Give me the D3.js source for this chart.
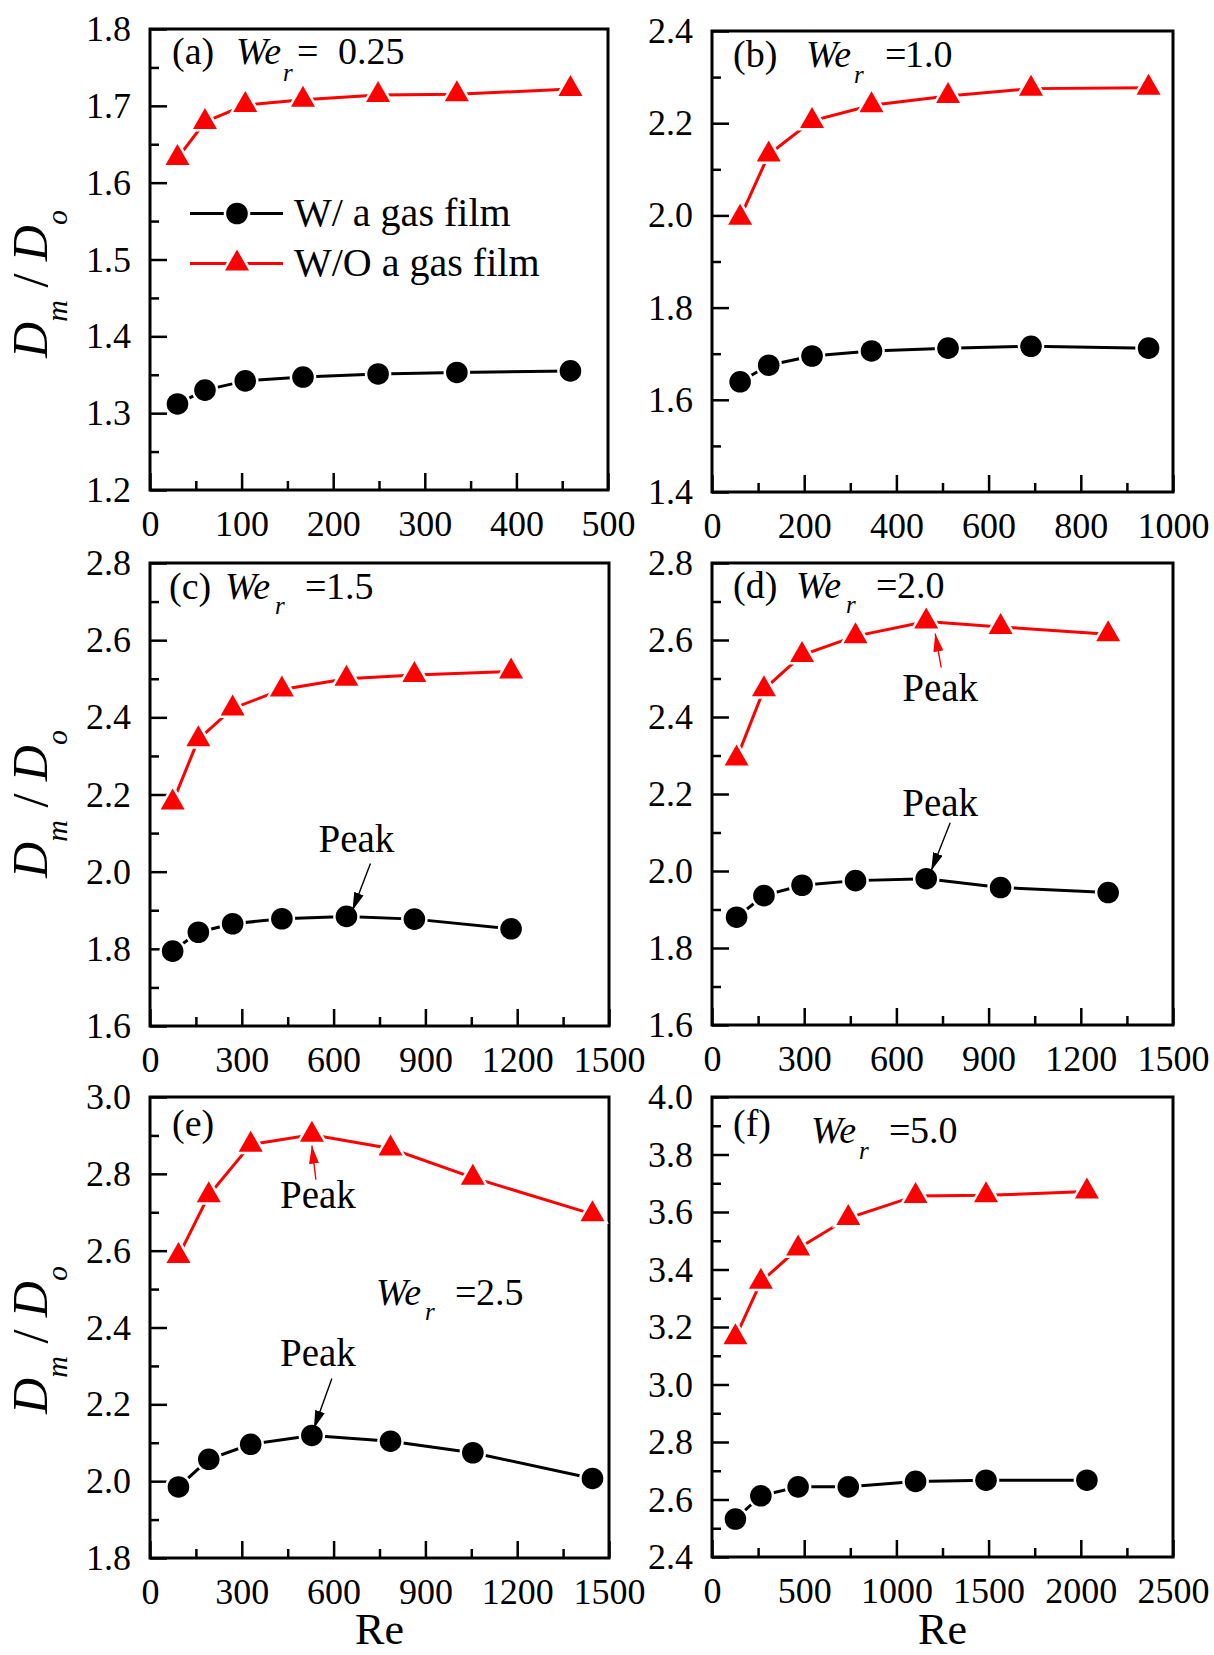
<!DOCTYPE html>
<html>
<head>
<meta charset="utf-8">
<script src="https://cdn.jsdelivr.net/npm/d3@7"></script>
<style>
body { margin: 0; background: #fff; }
svg text { font-family: "Liberation Serif", "Times New Roman", serif; fill: #000; white-space: pre; }
</style>
</head>
<body>
<svg id="chart" width="1214" height="1655"></svg>
<script>
var width = 1214,
    height = 1655;

// (a) We_r = 0.25
var reA = [30, 60, 104, 167, 249, 335, 459];
var gasA = [1.312, 1.330, 1.342, 1.347, 1.351, 1.353, 1.355];
var noGasA = [1.632, 1.679, 1.701, 1.708, 1.714, 1.715, 1.722];
var xTicksA = [0, 100, 200, 300, 400, 500];
var yTicksA = [1.2, 1.3, 1.4, 1.5, 1.6, 1.7, 1.8];

// (b) We_r = 1.0
var reB = [61, 123, 217, 346, 512, 692, 947];
var gasB = [1.639, 1.675, 1.695, 1.706, 1.712, 1.716, 1.712];
var noGasB = [1.995, 2.132, 2.205, 2.239, 2.259, 2.275, 2.277];
var xTicksB = [0, 200, 400, 600, 800, 1000];
var yTicksB = [1.4, 1.6, 1.8, 2.0, 2.2, 2.4];

// (c) We_r = 1.5
var reC = [74, 158, 270, 431, 642, 864, 1180];
var gasC = [1.794, 1.843, 1.865, 1.878, 1.884, 1.877, 1.852];
var noGasC = [2.179, 2.343, 2.423, 2.472, 2.500, 2.510, 2.519];
var xTicksC = [0, 300, 600, 900, 1200, 1500];
var yTicksC = [1.6, 1.8, 2.0, 2.2, 2.4, 2.6, 2.8];

// (d) We_r = 2.0
var reD = [80, 169, 293, 467, 697, 939, 1289];
var gasD = [1.880, 1.936, 1.963, 1.975, 1.980, 1.957, 1.944];
var noGasD = [2.292, 2.472, 2.561, 2.610, 2.648, 2.634, 2.615];
var xTicksD = [0, 300, 600, 900, 1200, 1500];
var yTicksD = [1.6, 1.8, 2.0, 2.2, 2.4, 2.6, 2.8];

// (e) We_r = 2.5
var reE = [93, 192, 329, 529, 786, 1055, 1446];
var gasE = [1.985, 2.057, 2.096, 2.119, 2.104, 2.074, 2.007];
var noGasE = [2.586, 2.744, 2.876, 2.902, 2.866, 2.790, 2.695];
var xTicksE = [0, 300, 600, 900, 1200, 1500];
var yTicksE = [1.8, 2.0, 2.2, 2.4, 2.6, 2.8, 3.0];

// (f) We_r = 5.0
var reF = [127, 265, 467, 739, 1104, 1486, 2033];
var gasF = [2.532, 2.613, 2.644, 2.644, 2.663, 2.667, 2.667];
var noGasF = [3.164, 3.357, 3.473, 3.579, 3.656, 3.658, 3.671];
var xTicksF = [0, 500, 1000, 1500, 2000, 2500];
var yTicksF = [2.4, 2.6, 2.8, 3.0, 3.2, 3.4, 3.6, 3.8, 4.0];

var seriesNames = ["W/ a gas film", "W/O a gas film"];
var panelLetters = ["(a)", "(b)", "(c)", "(d)", "(e)", "(f)"];
var weValues = ["0.25", "1.0", "1.5", "2.0", "2.5", "5.0"];

var RED = "#ff0000";

var svg = d3.select("#chart");

// arrow heads for the "Peak" notes
var defs = svg.append("defs");
[["arrowBlack", "#000"], ["arrowRed", RED]].forEach(function (m) {
    defs.append("marker")
        .attr("id", m[0])
        .attr("viewBox", "0 0 18 10")
        .attr("refX", 18).attr("refY", 5)
        .attr("markerWidth", 18).attr("markerHeight", 10)
        .attr("markerUnits", "userSpaceOnUse")
        .attr("orient", "auto")
      .append("path")
        .attr("d", "M0,0 L18,5 L0,10 Z")
        .attr("fill", m[1]);
});

// panel boxes and label placement (pixels, relative to each box)
var panels = [
    {left: 150, top: 29, w: 458, h: 461, re: reA, gas: gasA, noGas: noGasA, xT: xTicksA, yT: yTicksA,
     lab: {x: 22, y: 35}, we: {x: 86, y: 35, rx: 133, ry: 52, eq: 147, val: 188}},
    {left: 712, top: 31, w: 461, h: 461, re: reB, gas: gasB, noGas: noGasB, xT: xTicksB, yT: yTicksB,
     lab: {x: 21, y: 36}, we: {x: 94, y: 36, rx: 142, ry: 52, eq: 173, val: 193}},
    {left: 150, top: 563, w: 459, h: 463, re: reC, gas: gasC, noGas: noGasC, xT: xTicksC, yT: yTicksC,
     lab: {x: 19, y: 36}, we: {x: 75, y: 36, rx: 125, ry: 51, eq: 155, val: 176}},
    {left: 712, top: 563, w: 461, h: 462, re: reD, gas: gasD, noGas: noGasD, xT: xTicksD, yT: yTicksD,
     lab: {x: 21, y: 35}, we: {x: 84, y: 35, rx: 134, ry: 50, eq: 164, val: 185}},
    {left: 150, top: 1097, w: 459, h: 461, re: reE, gas: gasE, noGas: noGasE, xT: xTicksE, yT: yTicksE,
     lab: {x: 22, y: 39}, we: {x: 226, y: 208, rx: 275, ry: 223, eq: 305, val: 326}},
    {left: 712, top: 1097, w: 461, h: 460, re: reF, gas: gasF, noGas: noGasF, xT: xTicksF, yT: yTicksF,
     lab: {x: 21, y: 39}, we: {x: 99, y: 46, rx: 147, ry: 62, eq: 177, val: 198}}
];

// "Peak" notes: panel index, series, point index, offsets from the point in px
var peakNotes = [
    {panel: 2, series: "gas", i: 4, tip: [6, -6], tail: [24, -53], text: [10, -64]},
    {panel: 3, series: "noGas", i: 4, tip: [9, 12], tail: [15, 46], text: [14, 79]},
    {panel: 3, series: "gas", i: 4, tip: [5, -8], tail: [24, -56], text: [14, -63]},
    {panel: 4, series: "noGas", i: 3, tip: [0, 11], tail: [4, 45], text: [6, 73]},
    {panel: 4, series: "gas", i: 3, tip: [2, -7], tail: [20, -57], text: [6, -69]}
];

function mids(t) {
    var out = [];
    for (var k = 0; k < t.length - 1; k++) out.push((t[k] + t[k + 1]) / 2);
    return out;
}

function triangle(d) {
    return "M0,-14 L12,7 L-12,7 Z";
}

function styleAxis(sel) {
    sel.select(".domain").remove();
    sel.selectAll(".tick line").attr("stroke", "#000").attr("stroke-width", 2.5);
    sel.selectAll("text").attr("font-size", 36).attr("fill", "#000")
       .attr("font-family", "'Liberation Serif', 'Times New Roman', serif");
}

panels.forEach(function (p, pi) {
    var x = d3.scaleLinear().domain([p.xT[0], p.xT[p.xT.length - 1]]).range([0, p.w]);
    var y = d3.scaleLinear().domain([p.yT[0], p.yT[p.yT.length - 1]]).range([p.h, 0]);
    p.x = x; p.y = y;

    var g = svg.append("g").attr("transform", "translate(" + p.left + "," + p.top + ")");
    p.g = g;

    // minor ticks
    g.append("g").attr("transform", "translate(0," + p.h + ")")
        .call(d3.axisBottom(x).tickValues(mids(p.xT)).tickSizeInner(-9).tickSizeOuter(0).tickFormat(""))
        .call(styleAxis);
    g.append("g")
        .call(d3.axisLeft(y).tickValues(mids(p.yT)).tickSizeInner(-9).tickSizeOuter(0).tickFormat(""))
        .call(styleAxis);

    // major ticks + labels
    g.append("g").attr("transform", "translate(0," + p.h + ")")
        .call(d3.axisBottom(x).tickValues(p.xT).tickSizeInner(-17).tickSizeOuter(0)
              .tickPadding(20).tickFormat(d3.format("d")))
        .call(styleAxis);
    g.append("g")
        .call(d3.axisLeft(y).tickValues(p.yT).tickSizeInner(-17).tickSizeOuter(0)
              .tickPadding(19).tickFormat(d3.format(".1f")))
        .call(styleAxis);

    // frame
    g.append("rect")
        .attr("width", p.w).attr("height", p.h)
        .attr("fill", "none").attr("stroke", "#000").attr("stroke-width", 3);

    var gasPts = p.re.map(function (r, k) { return {re: r, v: p.gas[k]}; });
    var noGasPts = p.re.map(function (r, k) { return {re: r, v: p.noGas[k]}; });

    var line = d3.line()
        .x(function (d) { return x(d.re); })
        .y(function (d) { return y(d.v); });

    g.append("path").datum(gasPts)
        .attr("d", line).attr("fill", "none").attr("stroke", "#000").attr("stroke-width", 3);
    g.append("path").datum(noGasPts)
        .attr("d", line).attr("fill", "none").attr("stroke", RED).attr("stroke-width", 3);

    // markers with a white halo so the line stops short of them
    g.selectAll("circle.gas").data(gasPts).enter().append("circle")
        .attr("class", "gas")
        .attr("cx", function (d) { return x(d.re); })
        .attr("cy", function (d) { return y(d.v); })
        .attr("r", 10.8)
        .attr("fill", "#000").attr("stroke", "#fff").attr("stroke-width", 5)
        .style("paint-order", "stroke");
    g.selectAll("path.nogas").data(noGasPts).enter().append("path")
        .attr("class", "nogas")
        .attr("transform", function (d) { return "translate(" + x(d.re) + "," + y(d.v) + ")"; })
        .attr("d", triangle)
        .attr("fill", RED).attr("stroke", "#fff").attr("stroke-width", 5)
        .style("paint-order", "stroke");

    // panel label
    var lab = g.append("text").attr("font-size", 38);
    lab.append("tspan").attr("x", p.lab.x).attr("y", p.lab.y).text(panelLetters[pi]);
    var we = g.append("text").attr("font-size", 38);
    we.append("tspan").attr("x", p.we.x).attr("y", p.we.y).attr("font-style", "italic").text("We");
    we.append("tspan").attr("x", p.we.rx).attr("y", p.we.ry).attr("font-style", "italic")
        .attr("font-size", 25).text("r");
    we.append("tspan").attr("x", p.we.eq).attr("y", p.we.y).text("=");
    we.append("tspan").attr("x", p.we.val).attr("y", p.we.y).text(weValues[pi]);
});

// legend in panel (a)
var pa = panels[0];
var leg = pa.g.append("g");
[0, 1].forEach(function (k) {
    var ly = k === 0 ? 184.5 : 234.5;
    var col = k === 0 ? "#000" : RED;
    leg.append("line").attr("x1", 40).attr("x2", 133).attr("y1", ly).attr("y2", ly)
        .attr("stroke", col).attr("stroke-width", 3);
    if (k === 0) {
        leg.append("circle").attr("cx", 87).attr("cy", ly).attr("r", 10.8)
            .attr("fill", "#000").attr("stroke", "#fff").attr("stroke-width", 5)
            .style("paint-order", "stroke");
    } else {
        leg.append("path").attr("transform", "translate(87," + ly + ")").attr("d", triangle)
            .attr("fill", RED).attr("stroke", "#fff").attr("stroke-width", 5)
            .style("paint-order", "stroke");
    }
    leg.append("text").attr("x", 144).attr("y", ly + 12.5).attr("font-size", 40).text(seriesNames[k]);
});

// Peak notes
peakNotes.forEach(function (n) {
    var p = panels[n.panel];
    var px = p.x(p.re[n.i]);
    var py = p.y(p[n.series][n.i]);
    var col = n.series === "gas" ? "#000" : RED;
    p.g.append("line")
        .attr("x1", px + n.tail[0]).attr("y1", py + n.tail[1])
        .attr("x2", px + n.tip[0]).attr("y2", py + n.tip[1])
        .attr("stroke", col).attr("stroke-width", 1.4)
        .attr("marker-end", "url(#" + (n.series === "gas" ? "arrowBlack" : "arrowRed") + ")");
    p.g.append("text")
        .attr("x", px + n.text[0]).attr("y", py + n.text[1])
        .attr("text-anchor", "middle").attr("font-size", 39)
        .text("Peak");
});

// y axis titles, one per row
[284, 804, 1340].forEach(function (cy) {
    var t = svg.append("text")
        .attr("transform", "translate(47," + cy + ") rotate(-90)")
        .attr("text-anchor", "middle").attr("font-size", 50);
    t.append("tspan").attr("font-style", "italic").text("D");
    t.append("tspan").attr("font-style", "italic").attr("font-size", 30).attr("dy", 20).text("m");
    t.append("tspan").attr("dy", -20).text(" / ");
    t.append("tspan").attr("font-style", "italic").text("D");
    t.append("tspan").attr("font-style", "italic").attr("font-size", 30).attr("dy", 20).text("o");
});

// x axis titles under the bottom row
[panels[4], panels[5]].forEach(function (p) {
    svg.append("text")
        .attr("x", p.left + p.w / 2).attr("y", 1644)
        .attr("text-anchor", "middle").attr("font-size", 44)
        .text("Re");
});
</script>
</body>
</html>
